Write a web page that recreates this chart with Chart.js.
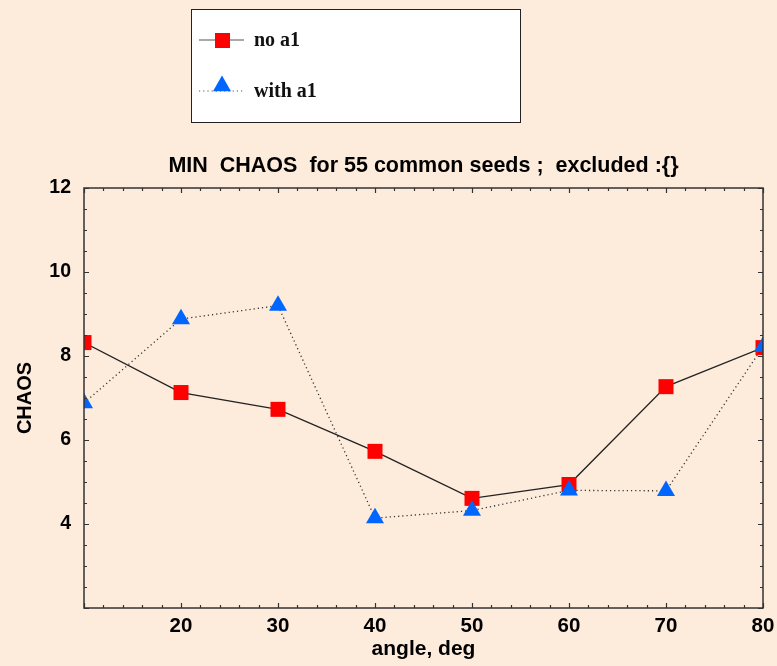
<!DOCTYPE html>
<html>
<head>
<meta charset="utf-8">
<script src="https://cdn.jsdelivr.net/npm/chart.js@4.4.1/dist/chart.umd.min.js"></script>
<style>
  html, body { margin:0; padding:0; background:#fdebdc; }
  canvas { display:block; }
</style>
</head>
<body>
<canvas id="chart" width="777" height="666"></canvas>
<script>
// data
const angles = [10, 20, 30, 40, 50, 60, 70, 80];
const noA1   = [8.32, 7.13, 6.73, 5.73, 4.61, 4.94, 7.27, 8.20];
const withA1 = [6.88, 8.88, 9.20, 4.14, 4.32, 4.80, 4.79, 8.22];
const xTickLabels = [20, 30, 40, 50, 60, 70, 80];
const yTickLabels = [4, 6, 8, 10, 12];
const titleText = 'MIN  CHAOS  for 55 common seeds ;  excluded :{}';
const seriesNames = ['no a1', 'with a1'];

const BG = '#fdebdc';
const RED = '#ff0000';
const BLUE = '#0066ff';
const SANS = "'Liberation Sans', Arial, sans-serif";

function tri(ctx, x, y, r){
  ctx.beginPath();
  ctx.moveTo(x, y - r);
  ctx.lineTo(x + r*Math.sqrt(3)/2, y + r/2);
  ctx.lineTo(x - r*Math.sqrt(3)/2, y + r/2);
  ctx.closePath();
  ctx.fill();
}

const decor = {
  id: 'decor',
  beforeDraw(chart){
    const ctx = chart.ctx;
    ctx.save();
    ctx.fillStyle = BG;
    ctx.fillRect(0, 0, chart.width, chart.height);
    ctx.restore();
  },
  afterDraw(chart){
    const ctx = chart.ctx;
    const a = chart.chartArea;
    const xs = chart.scales.x, ys = chart.scales.y;
    ctx.save();

    // frame
    ctx.strokeStyle = '#333';
    ctx.lineWidth = 1.5;
    ctx.strokeRect(a.left, a.top, a.right - a.left, a.bottom - a.top);

    // inward ticks on all four sides
    ctx.lineWidth = 1.2;
    ctx.beginPath();
    for(let v = 10; v <= 80; v += 2){
      const px = Math.round(xs.getPixelForValue(v)) + 0.5;
      const len = v % 10 === 0 ? 5 : 3;
      ctx.moveTo(px, a.bottom); ctx.lineTo(px, a.bottom - len);
      ctx.moveTo(px, a.top);    ctx.lineTo(px, a.top + len);
    }
    for(let v = 2; v <= 12; v += 0.5){
      const py = Math.round(ys.getPixelForValue(v)) + 0.5;
      const len = v % 2 === 0 ? 5 : 3;
      ctx.moveTo(a.left, py);  ctx.lineTo(a.left + len, py);
      ctx.moveTo(a.right, py); ctx.lineTo(a.right - len, py);
    }
    ctx.stroke();

    // title
    ctx.fillStyle = '#000';
    ctx.font = 'bold 21.5px ' + SANS;
    ctx.textAlign = 'center';
    ctx.textBaseline = 'middle';
    ctx.fillText(titleText, (a.left + a.right)/2, 166);

    // legend box
    ctx.fillStyle = '#fff';
    ctx.fillRect(191, 9, 329, 113);
    ctx.strokeStyle = '#222';
    ctx.lineWidth = 1;
    ctx.strokeRect(191.5, 9.5, 329, 113);

    ctx.strokeStyle = '#555';
    ctx.lineWidth = 1.2;
    ctx.beginPath(); ctx.moveTo(199, 40); ctx.lineTo(244, 40); ctx.stroke();
    ctx.fillStyle = RED;
    ctx.fillRect(215, 33, 15, 15);

    ctx.strokeStyle = '#555';
    ctx.setLineDash([1.2, 3]);
    ctx.beginPath(); ctx.moveTo(199, 91); ctx.lineTo(244, 91); ctx.stroke();
    ctx.setLineDash([]);
    ctx.fillStyle = BLUE;
    tri(ctx, 222, 86, 10.4);

    ctx.fillStyle = '#111';
    ctx.font = "bold 20px 'Liberation Serif', 'Times New Roman', serif";
    ctx.textAlign = 'left';
    ctx.fillText(seriesNames[0], 254, 41);
    ctx.fillText(seriesNames[1], 254, 92);

    ctx.restore();
  }
};

new Chart(document.getElementById('chart'), {
  type: 'line',
  data: {
    datasets: [
      {
        label: seriesNames[0],
        data: angles.map((x, i) => ({x, y: noA1[i]})),
        borderColor: '#222',
        borderWidth: 1.3,
        pointStyle: 'rect',
        pointRadius: 10.6,
        pointBackgroundColor: RED,
        pointBorderWidth: 0,
        order: 1,
        clip: 0,
        tension: 0
      },
      {
        label: seriesNames[1],
        data: angles.map((x, i) => ({x, y: withA1[i]})),
        borderColor: '#333',
        borderWidth: 1.3,
        borderDash: [1.2, 3],
        pointStyle: 'triangle',
        pointRadius: 10.4,
        pointBackgroundColor: BLUE,
        pointBorderWidth: 0,
        order: 0,
        clip: 0,
        tension: 0
      }
    ]
  },
  options: {
    responsive: false,
    animation: false,
    layout: { padding: { top: 188, right: 14, left: 0, bottom: 0 } },
    plugins: { legend: { display: false }, tooltip: { enabled: false } },
    scales: {
      x: {
        type: 'linear',
        min: 10, max: 80,
        grid: { display: false, drawTicks: false },
        border: { display: false },
        afterFit: s => { s.height = 58; s.paddingRight = 0; s.paddingLeft = 0; },
        ticks: {
          stepSize: 10, autoSkip: false, maxRotation: 0, padding: 6,
          color: '#000',
          font: { family: SANS, size: 20.5, weight: 'bold' },
          callback: v => xTickLabels.includes(v) ? String(v) : ''
        },
        title: {
          display: true, text: 'angle, deg', color: '#000',
          font: { family: SANS, size: 21, weight: 'bold' },
          padding: { top: 0, bottom: 4 }
        }
      },
      y: {
        min: 2, max: 12,
        grid: { display: false, drawTicks: false },
        border: { display: false },
        afterFit: s => { s.width = 84; s.paddingTop = 0; s.paddingBottom = 0; },
        ticks: {
          stepSize: 2, autoSkip: false, padding: 13,
          color: '#000',
          font: { family: SANS, size: 19.5, weight: 'bold' },
          callback: v => yTickLabels.includes(v) ? String(v) : ''
        },
        title: {
          display: true, text: 'CHAOS', color: '#000',
          font: { family: SANS, size: 20, weight: 'bold' },
          padding: { top: 13, bottom: 0 }
        }
      }
    }
  },
  plugins: [decor]
});
</script>
</body>
</html>
